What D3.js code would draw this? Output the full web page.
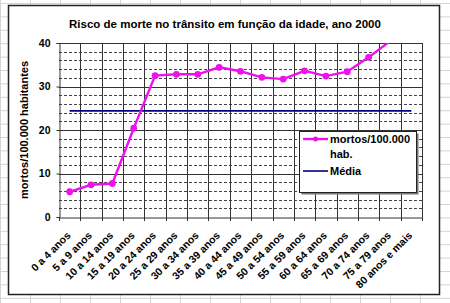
<!DOCTYPE html>
<html>
<head>
<meta charset="utf-8">
<title>Risco de morte no trânsito</title>
<style>
body { margin: 0; background: #ffffff; }
svg { display: block; font-family: 'Liberation Sans', Arial, sans-serif; }
.tick text { font-weight: bold; fill: #000; }
</style>
</head>
<body>
<script src="https://d3js.org/d3.v7.min.js"></script>
<script>
'use strict';

// data
const ages = ['0 a 4 anos', '5 a 9 anos', '10 a 14 anos', '15 a 19 anos', '20 a 24 anos',
  '25 a 29 anos', '30 a 34 anos', '35 a 39 anos', '40 a 44 anos', '45 a 49 anos',
  '50 a 54 anos', '55 a 59 anos', '60 a 64 anos', '65 a 69 anos', '70 a 74 anos',
  '75 a 79 anos', '80 anos e mais'];
const deaths = [5.8, 7.4, 7.7, 20.4, 32.5, 32.8, 32.8, 34.4, 33.5, 32.1,
  31.7, 33.6, 32.4, 33.4, 36.7, 40.4, 52];
const average = 24.4;
const yTicks = [0, 10, 20, 30, 40];
const yMinor = [2, 4, 6, 8, 12, 14, 16, 18, 22, 24, 26, 28, 32, 34, 36, 38];

const W = 450, H = 303;
const plot = {left: 59, right: 422, top: 43, bottom: 217};

const svg = d3.select('body').append('svg')
  .attr('width', W)
  .attr('height', H);

// spreadsheet cells behind the chart
const cells = svg.append('g').attr('stroke', '#d4d4d4').attr('stroke-width', 1);
d3.range(0.5, W, 30).forEach(function(x) {
  cells.append('line').attr('x1', x).attr('x2', x).attr('y1', 0).attr('y2', H);
});
d3.range(3.5, H, 13.4).forEach(function(y) {
  cells.append('line').attr('x1', 0).attr('x2', W).attr('y1', y).attr('y2', y);
});

// chart area
svg.append('rect')
  .attr('x', 8.5).attr('y', 5.5)
  .attr('width', 431).attr('height', 289)
  .attr('fill', '#fff')
  .attr('stroke', '#222')
  .attr('stroke-width', 1.5);

const x = d3.scaleBand()
  .domain(ages)
  .range([plot.left, plot.right]);

const y = d3.scaleLinear()
  .domain([0, 40])
  .range([plot.bottom, plot.top]);

const cx = function(d) { return x(d) + x.bandwidth() / 2; };

// minor dashed gridlines
svg.append('g').selectAll('line')
  .data(yMinor)
  .enter().append('line')
  .attr('x1', plot.left).attr('x2', plot.right)
  .attr('y1', function(d) { return Math.round(y(d)) + 0.5; })
  .attr('y2', function(d) { return Math.round(y(d)) + 0.5; })
  .attr('stroke', '#444')
  .attr('stroke-dasharray', '3,2');

// major horizontal gridlines
svg.append('g').selectAll('line')
  .data(yTicks.slice(1))
  .enter().append('line')
  .attr('x1', plot.left).attr('x2', plot.right)
  .attr('y1', function(d) { return Math.round(y(d)) + 0.5; })
  .attr('y2', function(d) { return Math.round(y(d)) + 0.5; })
  .attr('stroke', '#333');

// vertical gridlines at category boundaries
const bounds = ages.map(function(d) { return x(d); }).concat([plot.right]);
svg.append('g').selectAll('line')
  .data(bounds.slice(1))
  .enter().append('line')
  .attr('x1', function(d) { return Math.round(d) + 0.5; })
  .attr('x2', function(d) { return Math.round(d) + 0.5; })
  .attr('y1', plot.top).attr('y2', plot.bottom + 4)
  .attr('stroke', '#333');

// y axis
svg.append('g')
  .attr('transform', 'translate(' + (plot.left + 0.5) + ',0)')
  .call(d3.axisLeft(y).tickValues(yTicks).tickSize(3).tickPadding(6))
  .call(function(g) {
    g.selectAll('path, line').attr('stroke', '#333');
    g.selectAll('text').style('font-size', '10.5px');
  });

// x axis
svg.append('g')
  .attr('transform', 'translate(0,' + (plot.bottom + 0.5) + ')')
  .call(d3.axisBottom(x).tickSize(0).tickPadding(0))
  .call(function(g) {
    g.select('.domain').attr('stroke', '#333');
    g.selectAll('text')
      .style('font-size', '10.5px')
      .attr('text-anchor', 'end')
      .attr('x', 0).attr('y', 0)
      .attr('dy', '0.35em')
      .attr('transform', 'translate(-1,16) rotate(-45)');
  });

// left tick at the origin of the category axis
svg.append('line')
  .attr('x1', plot.left + 0.5).attr('x2', plot.left + 0.5)
  .attr('y1', plot.bottom).attr('y2', plot.bottom + 4)
  .attr('stroke', '#333');

// average line
svg.append('line')
  .attr('x1', cx(ages[0])).attr('x2', cx(ages[ages.length - 1]))
  .attr('y1', y(average)).attr('y2', y(average))
  .attr('stroke', '#000080')
  .attr('stroke-width', 1.6);

// death rate series, clipped to the plot area
svg.append('clipPath').attr('id', 'clip')
  .append('rect')
  .attr('x', plot.left).attr('y', plot.top)
  .attr('width', plot.right - plot.left).attr('height', plot.bottom - plot.top);

const pts = ages.map(function(d, i) { return {a: d, v: deaths[i]}; });
const series = svg.append('g').attr('clip-path', 'url(#clip)');
series.append('path')
  .datum(pts)
  .attr('fill', 'none')
  .attr('stroke', '#ee11ee')
  .attr('stroke-width', 2.4)
  .attr('d', d3.line().x(function(d) { return cx(d.a); }).y(function(d) { return y(d.v); }));
series.selectAll('circle')
  .data(pts.filter(function(d) { return d.v <= 40; }))
  .enter().append('circle')
  .attr('cx', function(d) { return cx(d.a); })
  .attr('cy', function(d) { return y(d.v); })
  .attr('r', 3.4)
  .attr('fill', '#ee11ee');

// title
svg.append('text')
  .attr('x', 225).attr('y', 28)
  .attr('text-anchor', 'middle')
  .style('font-size', '11.5px')
  .style('font-weight', 'bold')
  .text('Risco de morte no trânsito em função da idade, ano 2000');

// y axis title
svg.append('text')
  .attr('transform', 'translate(28,130) rotate(-90)')
  .attr('text-anchor', 'middle')
  .style('font-size', '11px')
  .style('font-weight', 'bold')
  .text('mortos/100.000 habitantes');

// legend
const lg = svg.append('g');
lg.append('rect')
  .attr('x', 301.5).attr('y', 133.5)
  .attr('width', 117).attr('height', 61)
  .attr('fill', '#777');
lg.append('rect')
  .attr('x', 299.5).attr('y', 131.5)
  .attr('width', 117).attr('height', 61)
  .attr('fill', '#fff')
  .attr('stroke', '#222');
lg.append('line')
  .attr('x1', 303).attr('x2', 328).attr('y1', 139).attr('y2', 139)
  .attr('stroke', '#ee11ee').attr('stroke-width', 2.4);
lg.append('circle')
  .attr('cx', 315.5).attr('cy', 139).attr('r', 2.5)
  .attr('fill', '#ee11ee');
lg.append('line')
  .attr('x1', 303).attr('x2', 328).attr('y1', 171).attr('y2', 171)
  .attr('stroke', '#000080').attr('stroke-width', 1.6);
const lt = lg.append('text')
  .style('font-size', '11px')
  .style('font-weight', 'bold');
lt.append('tspan').attr('x', 330).attr('y', 143).text('mortos/100.000');
lt.append('tspan').attr('x', 330).attr('y', 158).text('hab.');
lt.append('tspan').attr('x', 330).attr('y', 175).text('Média');
</script>
</body>
</html>
